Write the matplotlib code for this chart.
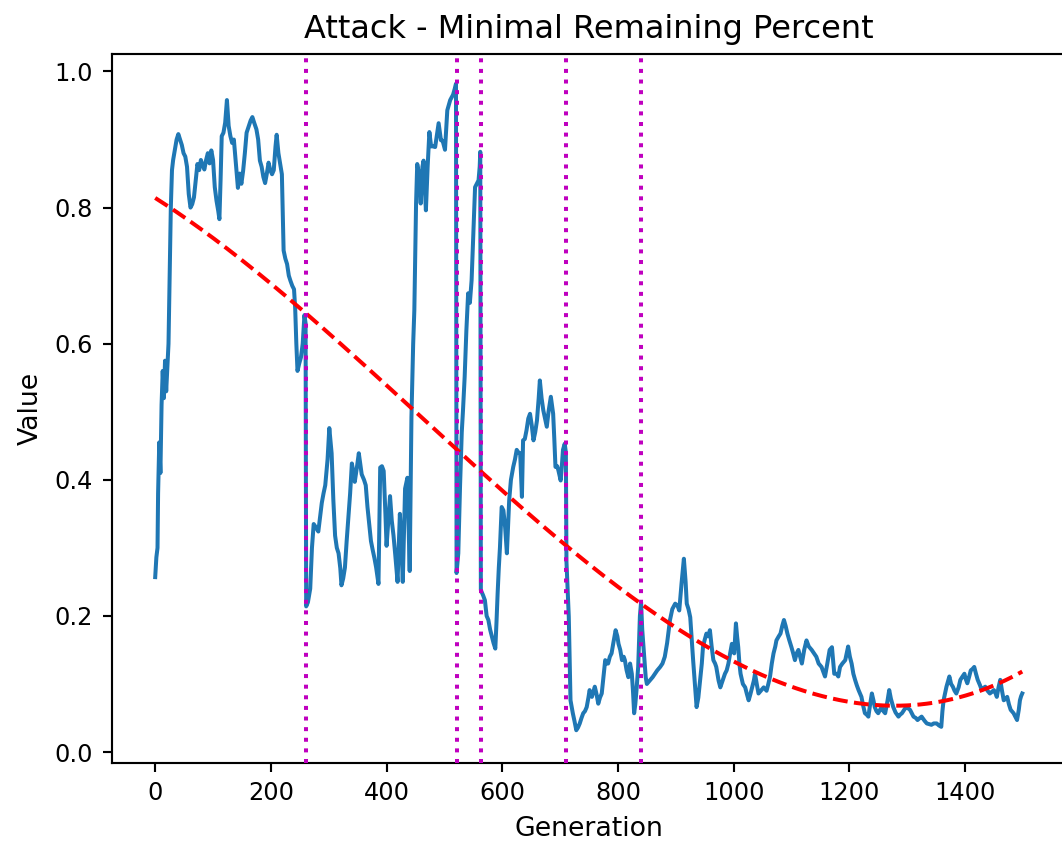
import numpy as np
import matplotlib
matplotlib.use("Agg")
import matplotlib.pyplot as plt

# Generation index of each sampled point and the minimal remaining percent there
generation = [
    0, 2, 4, 5, 7, 9, 11, 13, 15, 17, 19, 21, 23, 25, 27, 29, 31, 34, 37, 40,
    43, 46, 49, 52, 55, 58, 61, 64, 67, 70, 73, 76, 79, 82, 85, 88, 91, 94, 97, 100,
    103, 106, 109, 111, 113, 115, 118, 121, 124, 127, 130, 133, 136, 139, 141, 143, 146, 149, 152, 155,
    158, 162, 165, 168, 171, 175, 178, 181, 184, 187, 190, 193, 196, 199, 202, 205, 208, 210, 213, 216,
    219, 222, 225, 228, 231, 234, 237, 240, 242, 244, 246, 249, 252, 255, 258, 260, 261, 264, 268, 271,
    274, 278, 282, 285, 288, 291, 294, 298, 301, 305, 308, 311, 314, 317, 320, 322, 325, 328, 331, 334,
    337, 340, 343, 345, 349, 352, 355, 357, 361, 364, 367, 370, 373, 376, 379, 382, 386, 389, 392, 395,
    398, 400, 403, 406, 409, 412, 415, 419, 423, 426, 428, 432, 436, 440, 443, 446, 448, 451, 453, 456,
    459, 462, 464, 468, 471, 474, 477, 480, 484, 487, 490, 494, 497, 501, 505, 510, 515, 518, 520, 521,
    524, 527, 530, 532, 535, 538, 541, 544, 547, 550, 553, 556, 559, 561, 562, 563, 567, 570, 573, 576,
    579, 582, 585, 588, 590, 592, 594, 596, 599, 602, 605, 608, 612, 615, 619, 622, 625, 628, 631, 634,
    636, 639, 642, 645, 648, 651, 654, 657, 660, 663, 665, 668, 671, 674, 677, 680, 684, 688, 690, 692,
    695, 697, 701, 703, 705, 708, 710, 711, 713, 715, 718, 722, 725, 728, 731, 734, 737, 740, 743, 746,
    749, 751, 755, 758, 760, 763, 766, 769, 772, 775, 778, 781, 783, 786, 789, 792, 796, 799, 801, 804,
    807, 810, 812, 815, 818, 821, 824, 826, 828, 830, 832, 835, 838, 840, 842, 845, 848, 850, 855, 860,
    864, 868, 873, 877, 881, 885, 890, 894, 899, 903, 906, 910, 914, 917, 919, 922, 925, 928, 930, 933,
    936, 939, 942, 945, 947, 950, 953, 956, 959, 962, 965, 968, 970, 974, 977, 981, 985, 988, 991, 994,
    997, 1001, 1004, 1006, 1008, 1010, 1012, 1016, 1020, 1023, 1026, 1029, 1032, 1035, 1037, 1040, 1043, 1047, 1052, 1057,
    1060, 1063, 1066, 1069, 1072, 1074, 1078, 1081, 1084, 1087, 1090, 1093, 1096, 1100, 1103, 1106, 1109, 1112, 1115, 1118,
    1122, 1126, 1130, 1135, 1139, 1143, 1147, 1152, 1155, 1158, 1162, 1166, 1170, 1174, 1178, 1181, 1184, 1188, 1193, 1198,
    1201, 1204, 1207, 1210, 1213, 1216, 1219, 1221, 1224, 1227, 1230, 1233, 1236, 1239, 1242, 1244, 1247, 1250, 1253, 1256,
    1259, 1262, 1266, 1269, 1272, 1276, 1280, 1285, 1288, 1291, 1295, 1298, 1302, 1305, 1308, 1311, 1315, 1318, 1322, 1325,
    1330, 1334, 1338, 1342, 1346, 1351, 1355, 1359, 1361, 1363, 1366, 1368, 1371, 1373, 1376, 1379, 1382, 1385, 1389, 1392,
    1395, 1399, 1401, 1404, 1407, 1410, 1413, 1416, 1419, 1422, 1426, 1429, 1432, 1435, 1439, 1443, 1446, 1450, 1453, 1455,
    1458, 1461, 1464, 1467, 1470, 1473, 1476, 1479, 1481, 1484, 1487, 1490, 1493, 1495, 1497, 1499,
]

value = [
    0.257, 0.286, 0.300, 0.380, 0.455, 0.410, 0.510, 0.560, 0.520, 0.575, 0.530, 0.565, 0.600, 0.700, 0.800, 0.855, 0.870, 0.885, 0.900, 0.908,
    0.900, 0.892, 0.880, 0.875, 0.860, 0.820, 0.800, 0.805, 0.815, 0.840, 0.864, 0.855, 0.870, 0.862, 0.856, 0.870, 0.880, 0.865, 0.884, 0.870,
    0.830, 0.810, 0.795, 0.783, 0.840, 0.905, 0.910, 0.925, 0.958, 0.920, 0.905, 0.895, 0.900, 0.870, 0.849, 0.829, 0.850, 0.835, 0.854, 0.880,
    0.910, 0.920, 0.928, 0.933, 0.925, 0.915, 0.900, 0.869, 0.860, 0.845, 0.836, 0.850, 0.866, 0.855, 0.849, 0.855, 0.890, 0.907, 0.880, 0.864,
    0.849, 0.737, 0.725, 0.717, 0.700, 0.692, 0.685, 0.680, 0.652, 0.600, 0.560, 0.571, 0.580, 0.600, 0.642, 0.630, 0.214, 0.220, 0.240, 0.300,
    0.335, 0.330, 0.324, 0.345, 0.366, 0.380, 0.392, 0.430, 0.476, 0.439, 0.370, 0.318, 0.300, 0.292, 0.270, 0.245, 0.255, 0.271, 0.310, 0.345,
    0.380, 0.424, 0.410, 0.397, 0.420, 0.439, 0.420, 0.408, 0.400, 0.392, 0.360, 0.335, 0.310, 0.297, 0.285, 0.271, 0.247, 0.418, 0.420, 0.413,
    0.350, 0.303, 0.340, 0.376, 0.340, 0.318, 0.290, 0.250, 0.350, 0.300, 0.250, 0.387, 0.403, 0.266, 0.492, 0.600, 0.649, 0.806, 0.864, 0.850,
    0.806, 0.860, 0.869, 0.796, 0.860, 0.911, 0.890, 0.890, 0.889, 0.906, 0.924, 0.899, 0.898, 0.885, 0.943, 0.958, 0.966, 0.975, 0.982, 0.263,
    0.292, 0.390, 0.470, 0.500, 0.551, 0.620, 0.674, 0.660, 0.693, 0.760, 0.830, 0.835, 0.840, 0.860, 0.882, 0.238, 0.230, 0.223, 0.200, 0.194,
    0.180, 0.170, 0.160, 0.152, 0.190, 0.233, 0.270, 0.300, 0.360, 0.355, 0.330, 0.292, 0.370, 0.400, 0.419, 0.430, 0.444, 0.440, 0.439, 0.375,
    0.458, 0.460, 0.473, 0.490, 0.497, 0.480, 0.458, 0.470, 0.487, 0.520, 0.546, 0.520, 0.502, 0.490, 0.478, 0.500, 0.522, 0.497, 0.460, 0.419,
    0.420, 0.414, 0.399, 0.420, 0.444, 0.453, 0.440, 0.280, 0.240, 0.199, 0.076, 0.057, 0.045, 0.032, 0.036, 0.042, 0.050, 0.057, 0.060, 0.066,
    0.080, 0.091, 0.081, 0.090, 0.096, 0.085, 0.071, 0.080, 0.086, 0.110, 0.135, 0.130, 0.130, 0.140, 0.145, 0.160, 0.179, 0.170, 0.159, 0.150,
    0.135, 0.140, 0.135, 0.120, 0.110, 0.130, 0.115, 0.090, 0.057, 0.070, 0.090, 0.125, 0.200, 0.220, 0.180, 0.145, 0.110, 0.100, 0.105, 0.110,
    0.115, 0.120, 0.125, 0.130, 0.140, 0.160, 0.194, 0.210, 0.218, 0.215, 0.208, 0.248, 0.284, 0.250, 0.218, 0.210, 0.198, 0.160, 0.135, 0.100,
    0.066, 0.080, 0.105, 0.130, 0.154, 0.165, 0.174, 0.170, 0.179, 0.155, 0.135, 0.130, 0.125, 0.105, 0.095, 0.105, 0.115, 0.120, 0.130, 0.145,
    0.159, 0.145, 0.189, 0.170, 0.154, 0.130, 0.115, 0.100, 0.095, 0.085, 0.076, 0.085, 0.095, 0.105, 0.115, 0.100, 0.086, 0.090, 0.095, 0.090,
    0.100, 0.111, 0.130, 0.145, 0.155, 0.164, 0.170, 0.174, 0.185, 0.194, 0.185, 0.174, 0.165, 0.154, 0.145, 0.135, 0.145, 0.150, 0.140, 0.130,
    0.150, 0.164, 0.155, 0.150, 0.145, 0.140, 0.130, 0.125, 0.118, 0.111, 0.130, 0.150, 0.154, 0.115, 0.115, 0.111, 0.125, 0.130, 0.135, 0.155,
    0.140, 0.130, 0.115, 0.106, 0.098, 0.091, 0.085, 0.081, 0.068, 0.057, 0.055, 0.052, 0.070, 0.086, 0.075, 0.066, 0.060, 0.057, 0.062, 0.066,
    0.060, 0.057, 0.075, 0.091, 0.078, 0.066, 0.058, 0.052, 0.055, 0.057, 0.062, 0.066, 0.064, 0.062, 0.057, 0.052, 0.050, 0.047, 0.050, 0.052,
    0.046, 0.042, 0.041, 0.040, 0.042, 0.042, 0.039, 0.037, 0.060, 0.076, 0.088, 0.096, 0.105, 0.111, 0.100, 0.096, 0.090, 0.086, 0.095, 0.106,
    0.110, 0.115, 0.108, 0.101, 0.110, 0.120, 0.122, 0.125, 0.115, 0.106, 0.098, 0.091, 0.094, 0.096, 0.090, 0.086, 0.088, 0.091, 0.086, 0.081,
    0.095, 0.106, 0.090, 0.076, 0.078, 0.081, 0.070, 0.062, 0.060, 0.057, 0.052, 0.047, 0.062, 0.076, 0.082, 0.086,
]

# Generations at which the environment changed
change_points = [261, 521, 563, 711, 840]

x_ticks = [0, 200, 400, 600, 800, 1000, 1200, 1400]
y_ticks = [0.0, 0.2, 0.4, 0.6, 0.8, 1.0]

K = 1.923  # point-size scale for this canvas

fig = plt.figure(figsize=(10.62, 8.5), dpi=100)
W, H = 1062.0, 850.0
left_px, right_px, top_px, bottom_px = 111.85, 1065.6, 54.0, 762.7
ax = fig.add_axes([left_px / W, (H - bottom_px) / H,
                   (right_px - left_px) / W, (bottom_px - top_px) / H])

gen_arr = np.asarray(generation, dtype=float)
val_arr = np.asarray(value, dtype=float)

ax.plot(gen_arr, val_arr, color="C0", lw=1.5 * K, zorder=2)

# Cubic trend of the series; each sample weighted by the span of generations it covers
span = np.gradient(gen_arr)
coef = np.polyfit(gen_arr, val_arr, 3, w=np.sqrt(span))
x_fit = np.linspace(gen_arr.min(), gen_arr.max(), 400)
ax.plot(x_fit, np.polyval(coef, x_fit), "r--", lw=1.5 * K, zorder=3)

for g in change_points:
    ax.axvline(g, color="m", linestyle=":", lw=1.5 * K, zorder=4)

ax.set_xlim(-74.95, 1573.95)
ax.set_ylim(-0.0157, 1.0257)
ax.set_xticks(x_ticks)
ax.set_yticks(y_ticks)
ax.set_yticklabels([f"{t:.1f}" for t in y_ticks])

ax.tick_params(labelsize=9 * K, length=3.5 * K, width=0.8 * K, pad=3.5 * K)
for sp in ax.spines.values():
    sp.set_linewidth(0.8 * K)

ax.set_title("Attack - Minimal Remaining Percent", fontsize=12 * K, pad=6 * K)
ax.set_xlabel("Generation", fontsize=10 * K, labelpad=4 * K)
ax.set_ylabel("Value", fontsize=10 * K, labelpad=4 * K)

fig.savefig("out.png", dpi=100)
